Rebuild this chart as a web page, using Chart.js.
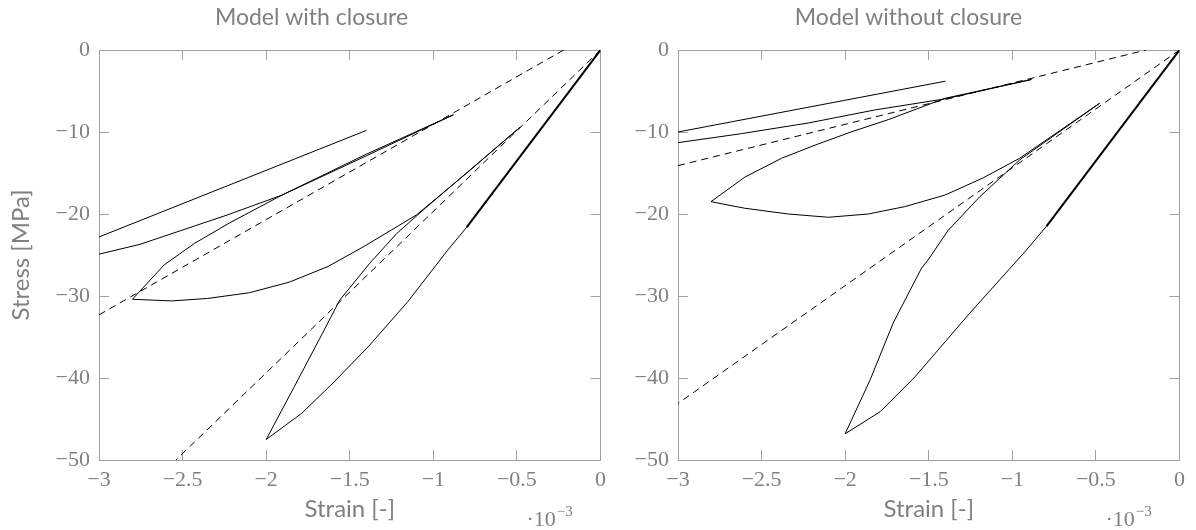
<!DOCTYPE html>
<html>
<head>
<meta charset="utf-8">
<script src="https://cdn.jsdelivr.net/npm/chart.js@4.4.0/dist/chart.umd.min.js"></script>
<style>
  html, body { margin: 0; padding: 0; background: #fff; }
  #wrap { position: relative; width: 1196px; height: 530px; overflow: hidden; }
  canvas { position: absolute; top: 0; }
  #withClosure { left: 0; }
  #withoutClosure { left: 615px; }
</style>
</head>
<body>
<div id="wrap">
  <canvas id="withClosure" width="623" height="530"></canvas>
  <canvas id="withoutClosure" width="587" height="530"></canvas>
</div>
<script>
// strain values are in units of 1e-3 (the axis carries the ·10^-3 factor)
const X_TICKS = [-3, -2.5, -2, -1.5, -1, -0.5, 0];
const Y_TICKS = [-50, -40, -30, -20, -10, 0];

// Model with closure
const wcInitial = [[0, 0], [-0.8, -21.6]];
const wcLoad1 = [[-0.8, -21.6], [-0.914, -24.4], [-1.153, -30.7], [-1.39, -36.2], [-1.6, -40.6], [-1.787, -44.3], [-2.0, -47.5]];
const wcUnload1 = [[-2.0, -47.5], [-1.83, -41.0], [-1.68, -35.2], [-1.56, -30.5], [-1.38, -26.0], [-1.22, -22.4], [-1.06, -19.5], [-0.48, -9.4]];
const wcLoad2 = [[-0.48, -9.4], [-0.8, -15.0], [-1.1, -20.1], [-1.41, -23.9], [-1.63, -26.4], [-1.86, -28.3], [-2.1, -29.6], [-2.35, -30.3], [-2.565, -30.6], [-2.8, -30.4]];
const wcUnload2 = [[-2.8, -30.4], [-2.61, -26.2], [-2.43, -23.6], [-2.22, -21.1], [-1.906, -17.7], [-1.4, -12.7], [-0.88, -7.9]];
const wcLoad3 = [[-0.88, -7.9], [-1.4, -12.9], [-1.906, -17.7], [-2.23, -20.1], [-2.755, -23.7], [-3, -24.9]];
const wcUnload3 = [[-3, -22.8], [-1.4, -9.8]];
const wcSecant1 = [[-3, -32.3], [-0.22, 0]];
const wcSecant2 = [[0, 0], [-2.54, -50]];

// Model without closure
const ncInitial = [[0, 0], [-0.796, -21.5]];
const ncLoad1 = [[-0.796, -21.5], [-0.916, -24.4], [-1.255, -32.1], [-1.58, -39.8], [-1.79, -44.1], [-2.0, -46.8]];
const ncUnload1 = [[-2.0, -46.8], [-1.85, -40.2], [-1.713, -33.3], [-1.543, -26.6], [-1.504, -25.6], [-1.384, -22.0], [-1.195, -17.9], [-0.956, -13.4], [-0.478, -6.5]];
const ncLoad2 = [[-0.478, -6.5], [-0.956, -13.2], [-1.175, -15.6], [-1.404, -17.7], [-1.643, -19.1], [-1.862, -20.0], [-2.1, -20.4], [-2.34, -20.0], [-2.6, -19.3], [-2.803, -18.5]];
const ncUnload2 = [[-2.803, -18.5], [-2.6, -15.5], [-2.38, -13.2], [-2.18, -11.6], [-1.96, -9.96], [-1.743, -8.5], [-1.404, -5.9], [-0.886, -3.6]];
const ncLoad3 = [[-0.886, -3.6], [-1.4, -5.95], [-1.82, -7.3], [-2.22, -8.9], [-2.62, -10.2], [-3, -11.3]];
const ncUnload3 = [[-3, -10.0], [-1.4, -3.8]];
const ncSecant1 = [[-3, -14.1], [-0.2, 0]];
const ncSecant2 = [[0, 0], [-3, -43.1]];

const AXIS = '#a0a0a0';
const TEXT = '#808080';
const SERIF = { family: '"Liberation Serif", "DejaVu Serif", serif', size: 22 };
const SANS = { family: 'Lato, "Open Sans", sans-serif', size: 24, weight: 'normal' };
const TITLE_FONT = { family: SANS.family, size: 23, weight: 'normal' };

function fmt(v) {
  return String(v).replace('-', '\u2212');
}

function line(points, extra) {
  return Object.assign({
    data: points.map(([x, y]) => ({ x, y })),
    showLine: true,
    pointRadius: 0,
    borderColor: '#000',
    borderWidth: 1,
    fill: false
  }, extra || {});
}

const dashed = { borderDash: [7, 5] };

// "·10^-3" factor under the right end of the x axis
const exponentLabel = {
  id: 'exponentLabel',
  afterDraw(chart) {
    const { ctx, chartArea } = chart;
    const x = chartArea.right - 74;
    const y = chartArea.bottom + 66;
    ctx.save();
    ctx.fillStyle = TEXT;
    ctx.textBaseline = 'alphabetic';
    ctx.textAlign = 'left';
    ctx.font = '22px ' + SERIF.family;
    const base = '\u00b710';
    ctx.fillText(base, x, y);
    const w = ctx.measureText(base).width;
    ctx.font = '15px ' + SERIF.family;
    ctx.fillText('\u22123', x + w + 1, y - 10);
    ctx.restore();
  }
};

function makeScales(yTitle, yWidth) {
  const setTicks = list => s => { s.ticks = list.map(v => ({ value: v })); };
  const grid = { drawOnChartArea: false, tickLength: -10, color: AXIS, lineWidth: 1 };
  const border = { color: AXIS, width: 1 };
  return {
    x: {
      type: 'linear', position: 'bottom', min: -3, max: 0,
      afterBuildTicks: setTicks(X_TICKS),
      afterFit: s => { s.height = 70; },
      border, grid,
      ticks: { color: TEXT, font: SERIF, padding: 17, maxRotation: 0, autoSkip: false, callback: fmt },
      title: { display: true, text: 'Strain [-]', color: TEXT, font: SANS, padding: { top: 0, bottom: 6 } }
    },
    x2: {
      type: 'linear', position: 'top', min: -3, max: 0,
      afterBuildTicks: setTicks(X_TICKS),
      afterFit: s => { s.height = 0; },
      border, grid,
      ticks: { display: false }
    },
    y: {
      type: 'linear', position: 'left', min: -50, max: 0,
      afterBuildTicks: setTicks(Y_TICKS),
      afterFit: s => { s.width = yWidth; },
      border, grid,
      ticks: { color: TEXT, font: SERIF, padding: 19, callback: fmt },
      title: { display: !!yTitle, text: yTitle || '', color: TEXT, font: SANS, padding: { top: 7, bottom: 0 } }
    },
    y2: {
      type: 'linear', position: 'right', min: -50, max: 0,
      afterBuildTicks: setTicks(Y_TICKS),
      afterFit: s => { s.width = 0; },
      border, grid,
      ticks: { display: false }
    }
  };
}

function makeChart(id, title, series, yTitle, yWidth) {
  return new Chart(document.getElementById(id), {
    type: 'scatter',
    data: { datasets: series },
    options: {
      responsive: false,
      animation: false,
      layout: { padding: 0 },
      plugins: {
        legend: { display: false },
        tooltip: { enabled: false },
        title: { display: true, text: title, color: TEXT, font: TITLE_FONT, padding: { top: 4, bottom: 18.4 } }
      },
      scales: makeScales(yTitle, yWidth)
    },
    plugins: [exponentLabel]
  });
}

makeChart('withClosure', 'Model with closure', [
  line(wcSecant1, dashed),
  line(wcSecant2, dashed),
  line(wcInitial, { borderWidth: 2 }),
  line(wcLoad1),
  line(wcUnload1),
  line(wcLoad2),
  line(wcUnload2),
  line(wcLoad3),
  line(wcUnload3)
], 'Stress [MPa]', 99);

makeChart('withoutClosure', 'Model without closure', [
  line(ncSecant1, dashed),
  line(ncSecant2, dashed),
  line(ncInitial, { borderWidth: 2 }),
  line(ncLoad1),
  line(ncUnload1),
  line(ncLoad2),
  line(ncUnload2),
  line(ncLoad3),
  line(ncUnload3)
], '', 63);
</script>
</body>
</html>
